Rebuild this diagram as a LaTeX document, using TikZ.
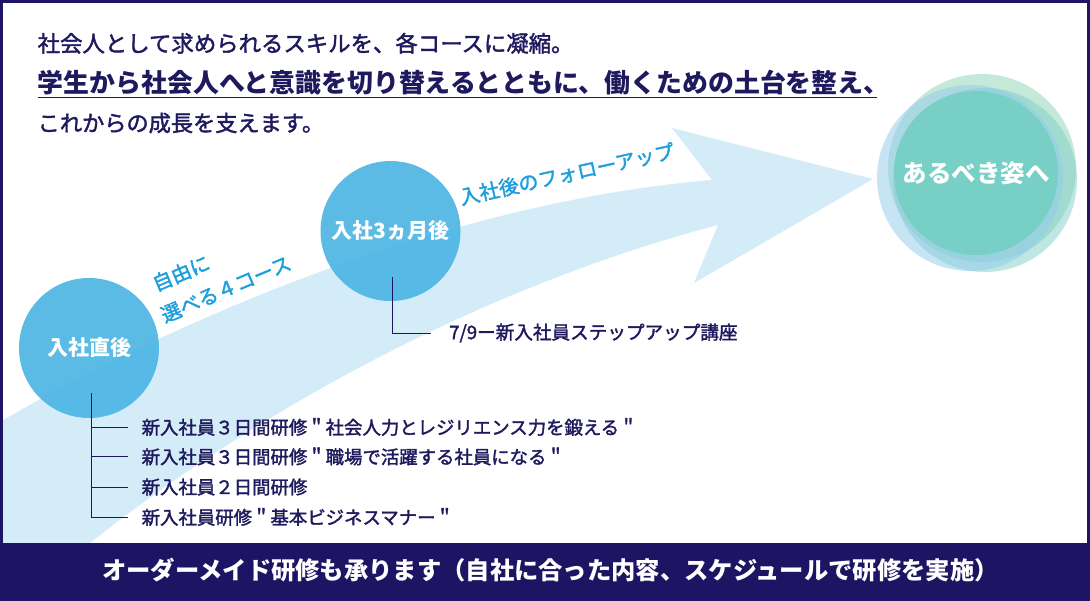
\documentclass[tikz,border=0pt]{standalone}
\usepackage{fontspec}
\setmainfont{Noto Sans CJK JP}
\newfontfamily\medf{Noto Sans CJK JP}[FakeBold=1.8]
\definecolor{navy}{HTML}{1E1464}
\definecolor{navytxt}{HTML}{1F1A5E}
\definecolor{bandc}{HTML}{D4ECF8}
\definecolor{cblue}{HTML}{4AB4E3}
\definecolor{lblue}{HTML}{1E9FDD}
\definecolor{ctealc}{HTML}{78CFC6}
\definecolor{cmint}{RGB}{139,213,181}
\definecolor{caqua}{RGB}{127,207,199}
\definecolor{cpale}{RGB}{145,203,237}
\tikzset{
  stagecirc/.style={circle, fill=cblue, fill opacity=0.9, text opacity=1, text=white, inner sep=0pt, minimum size=140pt, font=\bfseries\fontsize{21}{21}\selectfont},
  itemtxt/.style={anchor=west, inner xsep=13.5pt, inner ysep=0pt, text=navytxt, font=\medf\fontsize{18.4}{18.4}\selectfont},
  conn/.style={draw=navy, line width=1pt},
  bandlbl/.style={text=lblue, inner sep=0pt, font=\medf\fontsize{20}{20}\selectfont},
  ttl/.style={anchor=west, inner sep=0pt, text=navytxt},
  halo/.style={fill opacity=0.5}
}
\begin{document}
\begin{tikzpicture}[x=1pt,y=-1pt]
\useasboundingbox (0,0) rectangle (1090,600);
\fill[white] (0,0) rectangle (1090,600);
% big arrow band
\fill[bandc] (0,422) .. controls (200,305) and (470,200) .. (712,180) -- (672,128) -- (873,179) -- (694,283) -- (718,225) .. controls (500,282) and (270,400) .. (90,543) -- (0,543) -- cycle;
% goal circles
\fill[halo, cmint] (982,168) circle[radius=94];
\fill[halo, caqua] (985,180) circle[radius=92];
\fill[halo, cpale] (970,178) circle[radius=93];
\node[circle, fill=ctealc, inner sep=0pt, minimum size=164pt, text=white, font=\bfseries\fontsize{24.5}{24.5}\selectfont] (goal) at (976,173) {あるべき姿へ};
% stage circles
\node[stagecirc] (c1) at (89,348) {入社直後};
\node[stagecirc] (c2) at (390.5,231) {入社3ヵ月後};
% band labels
\node[bandlbl, rotate=23] (f1a) at (181,273) {自由に};
\node[bandlbl, rotate=23] (f1b) at (226,289) {選べる４コース};
\node[bandlbl, rotate=12.4] (f2) at (567,174) {入社後のフォローアップ};
% title texts
\node[ttl, font=\medf\fontsize{22.4}{22.4}\selectfont] (t1) at (37.5,43.3) {社会人として求められるスキルを、各コースに凝縮。};
\node[ttl, font=\bfseries\fontsize{25.9}{25.9}\selectfont] (t2) at (37.5,83) {学生から社会人へと意識を切り替えるとともに、働くための土台を整え、};
\draw[navy, line width=1.3pt] ([yshift=-1.5pt]t2.south west) -- ([xshift=-13pt,yshift=-1.5pt]t2.south east);
\node[ttl, font=\medf\fontsize{22.2}{22.2}\selectfont] (t3) at (37.5,123) {これからの成長を支えます。};
% lists
\coordinate (c1s) at (91.5,393);
\node[itemtxt] (i1) at (128,427) {新入社員３日間研修＂社会人力とレジリエンス力を鍛える＂};
\node[itemtxt] (i2) at (128,456.5) {新入社員３日間研修＂職場で活躍する社員になる＂};
\node[itemtxt] (i3) at (128,487) {新入社員２日間研修};
\node[itemtxt] (i4) at (128,517) {新入社員研修＂基本ビジネスマナー＂};
\draw[conn] (c1s) |- (i4.west);
\draw[conn] (c1s) |- (i1.west);
\draw[conn] (c1s) |- (i2.west);
\draw[conn] (c1s) |- (i3.west);
\coordinate (c2s) at (392.7,277);
\node[itemtxt, inner xsep=18pt, font=\medf\fontsize{18.6}{18.6}\selectfont] (j1) at (431,333) {7/9ー新入社員ステップアップ講座};
\draw[conn] (c2s) |- (j1.west);
% bottom bar
\fill[navy] (0,543) rectangle (1090,600);
\node[text=white, anchor=west, inner sep=0pt, font=\bfseries\fontsize{24.3}{24.3}\selectfont] (bt) at (102,570) {オーダーメイド研修も承ります（自社に合った内容、スケジュールで研修を実施）};
% frame
\draw[navy, line width=5.4pt] (0,0) rectangle (1090,600);
\end{tikzpicture}
\end{document}
